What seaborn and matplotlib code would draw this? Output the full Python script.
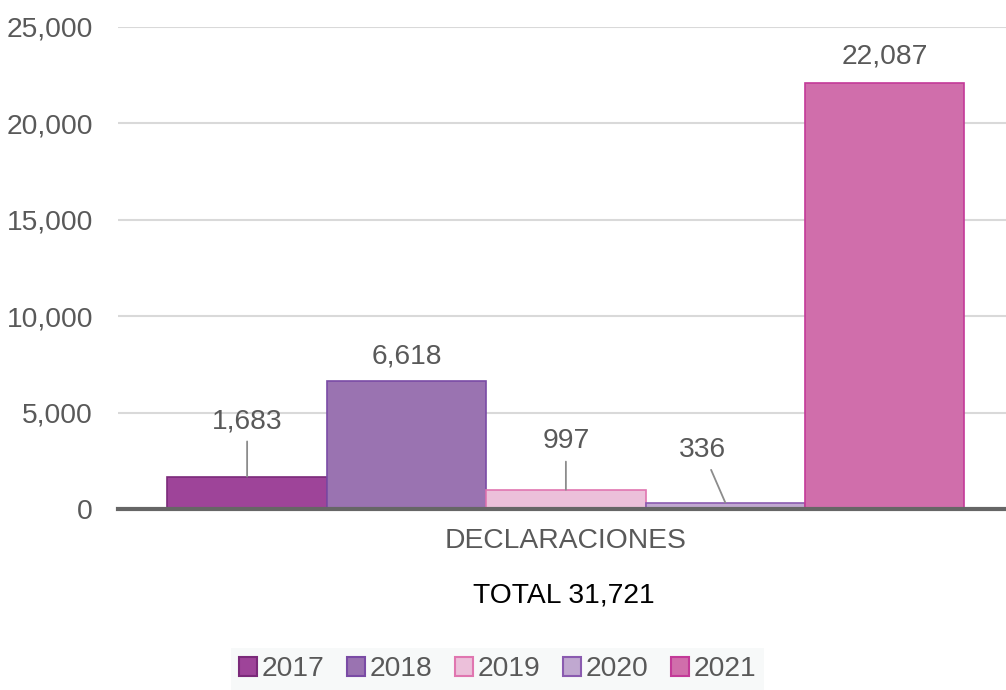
import matplotlib
matplotlib.use("Agg")
import matplotlib.pyplot as plt
import matplotlib.patches as mpatches
import seaborn as sns
import pandas as pd

# datos
categoria = ["DECLARACIONES"]
anios = ["2017", "2018", "2019", "2020", "2021"]
valores = [1683, 6618, 997, 336, 22087]
total_texto = "TOTAL 31,721"
y_ticks = [0, 5000, 10000, 15000, 20000, 25000]

colores = ["#9e4499", "#9a73b1", "#ecc0da", "#c0a8d0", "#d06eab"]
bordes = ["#7b2a7a", "#7a4ba5", "#e076b0", "#8a5bb0", "#c33a98"]

df = pd.DataFrame({"Categoria": categoria * len(anios), "Año": anios, "Valor": valores})

sns.set_style("white")
plt.rcParams["font.family"] = ["Liberation Sans", "DejaVu Sans"]
fs = 20.3

fig = plt.figure(figsize=(10.06, 6.9), dpi=100)
ax = fig.add_axes([0.1173, 0.2623, 0.8827, 0.6986])

sns.barplot(data=df, x="Categoria", y="Valor", hue="Año", palette=colores,
            width=0.8, gap=0, ax=ax, legend=False, saturation=1)

for p, ec in zip(ax.patches, bordes):
    p.set_edgecolor(ec)
    p.set_linewidth(1.2)

ax.set_ylim(0, 25000)
ax.set_xlim(-0.4496, 0.4418)
ax.set_yticks(y_ticks)
ax.set_yticklabels([f"{v:,}" for v in y_ticks])
ax.yaxis.grid(True, color="#d9d9d9", linewidth=1.5)
ax.set_axisbelow(True)
for s in ["top", "right", "left"]:
    ax.spines[s].set_visible(False)
ax.spines["bottom"].set_color("#666666")
ax.spines["bottom"].set_linewidth(3)
ax.tick_params(axis="both", length=0, labelsize=fs, labelcolor="#595959")
ax.tick_params(axis="y", pad=18)
ax.tick_params(axis="x", pad=14)
ax.set_xlabel("")
ax.set_ylabel("")

# etiquetas de datos
offsets = [(0, 40), (0, 18), (0, 35), (-16.5, 38), (0, 19.5)]
lineas = [True, False, True, True, False]
for p, v, off, ln in zip(ax.patches, valores, offsets, lineas):
    x = p.get_x() + p.get_width() / 2
    y = p.get_height()
    ax.annotate(f"{v:,}", xy=(x, y), xytext=off, textcoords="offset points",
                ha="center", va="center", fontsize=fs, color="#595959",
                arrowprops=dict(arrowstyle="-", color="#8c8c8c", lw=1.3,
                                shrinkA=3, shrinkB=0) if ln else None)

fig.text(0.5606, 1 - 595 / 690, total_texto, ha="center", va="center",
         fontsize=fs, color="#000000")

handles = [mpatches.Patch(facecolor=c, edgecolor=e, linewidth=1.5, label=a)
           for c, e, a in zip(colores, bordes, anios)]
leg = fig.legend(handles=handles, loc="center", bbox_to_anchor=(0.4945, 1 - 669 / 690),
                 ncol=5, frameon=True, fontsize=fs, handlelength=0.65, handleheight=0.65,
                 handletextpad=0.15, columnspacing=0.8, borderpad=0.3)
leg.get_frame().set_facecolor("#f6f8f8")
leg.get_frame().set_edgecolor("none")
leg.get_frame().set_boxstyle("square", pad=0)
for t in leg.get_texts():
    t.set_color("#595959")

fig.savefig("out.png", dpi=100)
